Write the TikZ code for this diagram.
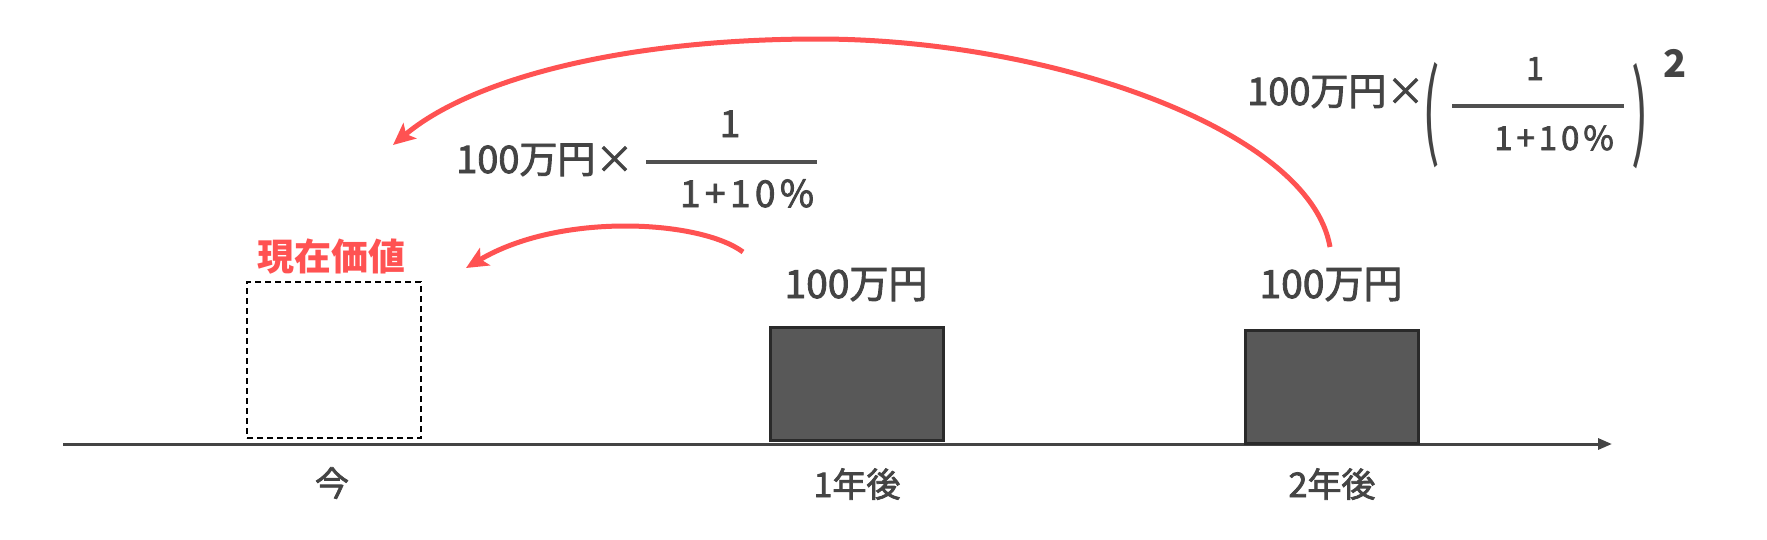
\documentclass[tikz,border=0pt]{standalone}
\usepackage{fontspec}
\usepackage{graphicx}
\setmainfont{Noto Sans CJK JP}
\newfontfamily\jpm{Noto Sans CJK JP}[FakeBold=2.2]
\usetikzlibrary{arrows.meta}
\definecolor{txt}{HTML}{444444}
\definecolor{redc}{RGB}{255,82,82}
\definecolor{boxfill}{HTML}{585858}
\definecolor{boxline}{HTML}{2A2A2A}
\definecolor{barc}{HTML}{505050}
\newcommand\fsz[1]{\fontsize{#1pt}{#1pt}\selectfont}
\newcommand\wide{\addfontfeature{LetterSpace=12}}
\begin{document}
\begin{tikzpicture}[x=1pt,y=-1pt,
  lbl/.style={text=txt, inner sep=0pt, anchor=base},
  cash/.style={draw=boxline, line width=3pt, fill=boxfill, minimum width=173pt, minimum height=113pt, inner sep=0pt},
  pvbox/.style={draw=black, line width=2pt, dash pattern=on 6pt off 4pt, minimum width=174pt, minimum height=156pt, inner sep=0pt},
  axisline/.style={draw=txt, line width=3pt, -{Triangle[length=14pt,width=11pt]}},
  redarrow/.style={draw=redc, line width=5pt, -{Stealth[length=22pt,width=20pt,inset=5pt]}},
  fracbar/.style={draw=barc, line width=4pt}]
\useasboundingbox (0,0) rectangle (1767,539);
% axis
\coordinate (a0) at (63,444);
\coordinate (a1) at (1612,444);
\draw[axisline] (a0) -- (a1);
% boxes
\node[pvbox] (pvb) at (334,360) {};
\node[cash] (b1) at (856.5,383.5) {};
\node[cash] (b2) at (1331.5,386.5) {};
% time labels
\node[lbl, font=\jpm\fsz{34}] (t0) at (332,496) {今};
\node[lbl, font=\jpm\fsz{34}] (t1) at (857,497) {1年後};
\node[lbl, font=\jpm\fsz{34}] (t2) at (1332,497) {2年後};
% amount labels
\node[lbl, font=\jpm\fsz{39}] (v1) at (856,298) {100万円};
\node[lbl, font=\jpm\fsz{39}] (v2) at (1331,298) {100万円};
\node[lbl, font=\fsz{37}\bfseries, text=redc] (pv) at (331,270) {現在価値};
% formula 1
\node[lbl, font=\jpm\fsz{38}, anchor=base west] (f1) at (456,173) {100万円×};
\coordinate (f1l) at (646,162);
\coordinate (f1r) at (817,162);
\draw[fracbar] (f1l) -- (f1r);
\node[lbl, font=\jpm\fsz{37}] (n1) at (730,137) {1};
\node[lbl, font=\jpm\fsz{37}\wide] (d1) at (747,207) {1+10\%};
% formula 2
\node[lbl, font=\jpm\fsz{38}, anchor=base west] (f2) at (1247,105) {100万円×};
\node[lbl, font=\fsz{40}, anchor=center] (lp) at (1431,115) {\scalebox{1.3}[2.6]{(}};
\coordinate (f2l) at (1452,106);
\coordinate (f2r) at (1624,106);
\draw[fracbar] (f2l) -- (f2r);
\node[lbl, font=\jpm\fsz{32}] (n2) at (1535,80) {1};
\node[lbl, font=\jpm\fsz{33}\wide] (d2) at (1554,150) {1+10\%};
\node[lbl, font=\fsz{40}, anchor=center] (rp) at (1640,116) {\scalebox{1.3}[2.6]{)}};
\node[lbl, font=\fsz{38}\bfseries] (sq) at (1675,77) {2};
% arrows
\coordinate (s1) at (743,252);
\coordinate (e1) at (466,268);
\coordinate (s2) at (1330,247);
\coordinate (e2) at (393,145);
\draw[redarrow] (s1) .. controls (700,220) and (560,212) .. (e1);
\draw[redarrow] (s2) .. controls (1310,130) and (1050,39) .. (818,39) .. controls (620,39) and (470,80) .. (e2);
\end{tikzpicture}
\end{document}
